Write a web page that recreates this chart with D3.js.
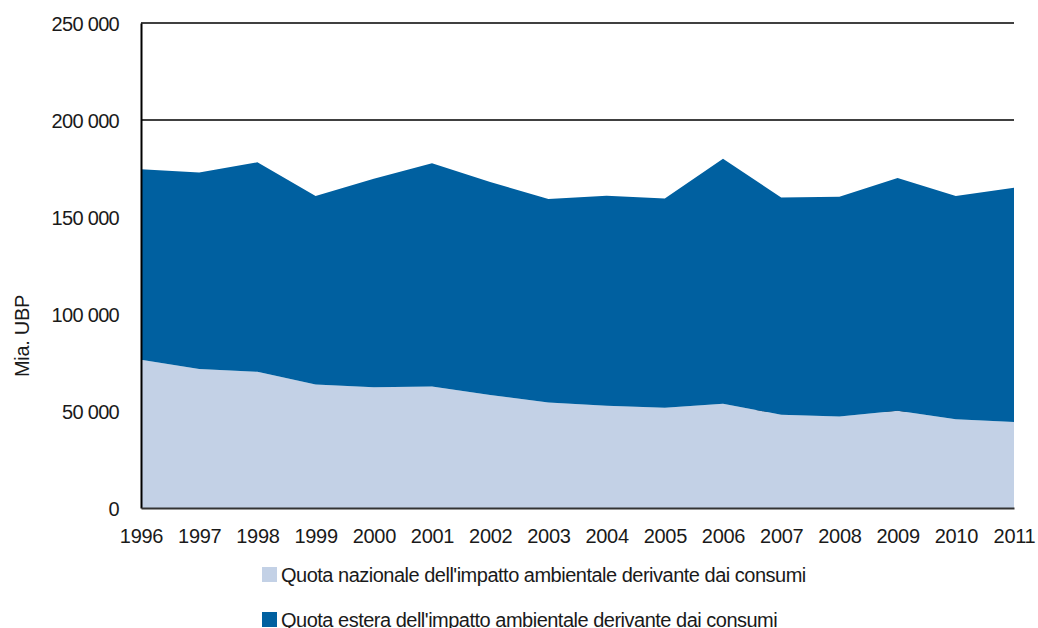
<!DOCTYPE html>
<html>
<head>
<meta charset="UTF-8">
<title>Impatto ambientale</title>
<script src="https://cdn.jsdelivr.net/npm/d3@7"></script>
<style>
body { margin: 0; background: #fff; }
svg text { font-family: "Liberation Sans", Arial, sans-serif; fill: #1a1a1a; }
</style>
</head>
<body>
<script>
// anni
var years = [1996, 1997, 1998, 1999, 2000, 2001, 2002, 2003, 2004, 2005, 2006, 2007, 2008, 2009, 2010, 2011];
// quota nazionale (Mia. UBP)
var nazionale = [76400, 71700, 70200, 63700, 62300, 62600, 58300, 54400, 52700, 51700, 53700, 48100, 47200, 50100, 45800, 44300];
// quota estera (Mia. UBP)
var estera = [98200, 101300, 108000, 97100, 107400, 115100, 109700, 104900, 108300, 107900, 126300, 112000, 113200, 120000, 115000, 120800];
var yTicks = [0, 50000, 100000, 150000, 200000, 250000];
var seriesNames = ["Quota nazionale dell'impatto ambientale derivante dai consumi",
                   "Quota estera dell'impatto ambientale derivante dai consumi"];
var colors = ["#c3d1e6", "#0060a0"];

var W = 1038, H = 628;
var margin = {top: 23, right: 24, bottom: 120, left: 141};
var size = {width: W - margin.left - margin.right, height: H - margin.top - margin.bottom};

var svg = d3.select("body").append("svg").attr("width", W).attr("height", H);
var g = svg.append("g").attr("transform", "translate(" + margin.left + "," + margin.top + ")");

var x = d3.scaleLinear().domain([years[0], years[years.length - 1]]).range([0, size.width]);
var y = d3.scaleLinear().domain([0, 250000]).range([size.height, 0]);

var rows = years.map(function(yr, i) { return {year: yr, naz: nazionale[i], est: estera[i]}; });
var stack = d3.stack().keys(["naz", "est"])(rows);

//griglia
g.selectAll(".grid").data(yTicks.slice(1)).enter().append("line")
  .attr("x1", 0).attr("x2", size.width)
  .attr("y1", function(d) { return y(d); }).attr("y2", function(d) { return y(d); })
  .attr("stroke", "#000").attr("stroke-width", 1.3);

//aree
var area = d3.area()
  .x(function(d) { return x(d.data.year); })
  .y0(function(d) { return y(d[0]); })
  .y1(function(d) { return y(d[1]); });

g.selectAll(".area").data(stack).enter().append("path")
  .attr("d", area)
  .attr("fill", function(d, i) { return colors[i]; });

//asse y
var yAxis = g.append("g").call(d3.axisLeft(y).tickValues(yTicks).tickSize(0).tickPadding(22)
  .tickFormat(function(d) { return d3.format(",")(d).replace(/,/g, " "); }));
yAxis.select(".domain").attr("stroke", "#000").attr("stroke-width", 2);
yAxis.selectAll("text").attr("font-size", 20).attr("letter-spacing", -0.7).attr("dy", "0.35em");

//asse x
var xAxis = g.append("g").attr("transform", "translate(0," + size.height + ")")
  .call(d3.axisBottom(x).tickValues(years).tickSize(0).tickPadding(21).tickFormat(d3.format("d")));
xAxis.select(".domain").attr("stroke", "#333").attr("stroke-width", 2);
xAxis.selectAll("text").attr("font-size", 20).attr("letter-spacing", -0.3);

//titolo asse y
svg.append("text")
  .attr("transform", "translate(29,336) rotate(-90)")
  .attr("text-anchor", "middle")
  .attr("font-size", 20)
  .attr("letter-spacing", -0.3)
  .text("Mia. UBP");

//legenda
var leg = svg.selectAll(".leg").data(seriesNames).enter().append("g")
  .attr("transform", function(d, i) { return "translate(262," + (567 + i * 45) + ")"; });
leg.append("rect").attr("width", 15).attr("height", 15)
  .attr("fill", function(d, i) { return colors[i]; });
leg.append("text").attr("x", 19).attr("y", 15)
  .attr("font-size", 20).attr("letter-spacing", -0.5)
  .text(function(d) { return d; });
</script>
</body>
</html>
